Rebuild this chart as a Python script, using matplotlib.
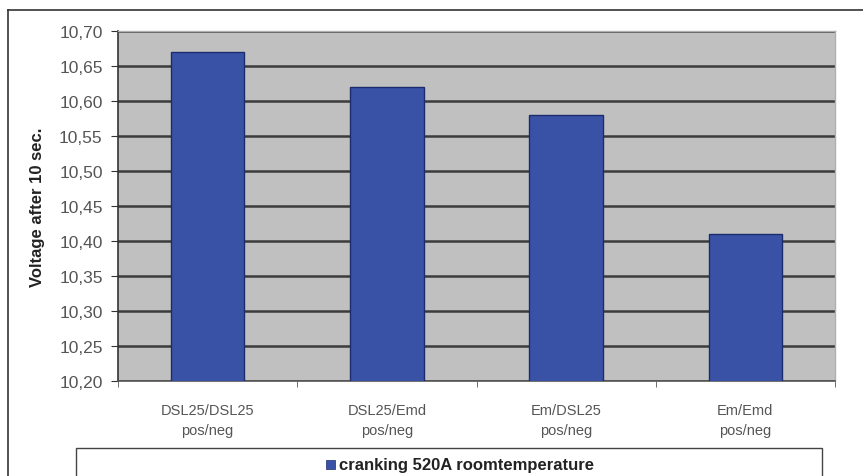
import matplotlib.pyplot as plt
import numpy as np
from matplotlib.lines import Line2D
from matplotlib.patches import Rectangle
from matplotlib.ticker import FixedLocator

plt.rcParams['font.family'] = ['Liberation Sans', 'DejaVu Sans']

categories = ["DSL25/DSL25\npos/neg", "DSL25/Emd\npos/neg", "Em/DSL25\npos/neg", "Em/Emd\npos/neg"]
voltage = [10.67, 10.62, 10.58, 10.41]
series_name = "cranking 520A roomtemperature"
yticks = [10.20, 10.25, 10.30, 10.35, 10.40, 10.45, 10.50, 10.55, 10.60, 10.65, 10.70]

W, H = 863, 477
fig = plt.figure(figsize=(W / 100, H / 100), dpi=100)
ax = fig.add_axes([118 / W, 1 - 382 / H, (835 - 118) / W, (382 - 32) / H])

x = np.arange(len(categories))
ax.set_facecolor("#c0c0c0")
ax.bar(x, voltage, width=0.41, color="#3a52a6", edgecolor="#1c2a6e", linewidth=1, zorder=3)

ax.set_xlim(-0.5, len(categories) - 0.5)
ax.set_ylim(10.20, 10.70)
ax.set_yticks(yticks)
ax.set_yticklabels([f"{v:.2f}".replace(".", ",") for v in yticks], fontsize=12.5, color="#555555")
ax.yaxis.grid(True, color="#3c3c3c", linewidth=1.8, zorder=1)
ax.set_axisbelow(True)

ax.set_xticks(x)
ax.set_xticklabels(categories, fontsize=10.5, color="#555555", linespacing=1.55)
ax.tick_params(axis="x", length=0, pad=16)
ax.xaxis.set_minor_locator(FixedLocator(np.arange(-0.5, len(categories), 1.0)))
ax.tick_params(axis="x", which="minor", length=4, color="#555555", direction="out")
ax.tick_params(axis="y", length=5, color="#333333", direction="out", pad=6)

for side in ["top", "right"]:
    ax.spines[side].set_color("#b0b0b0")
    ax.spines[side].set_linewidth(1)
ax.spines["left"].set_color("#333333")
ax.spines["bottom"].set_color("#555555")
ax.spines["left"].set_linewidth(1.2)
ax.spines["bottom"].set_linewidth(1.2)

ax.set_ylabel("Voltage after 10 sec.", fontsize=12, fontweight="bold", color="#222222", labelpad=10)

# outer chart frame (left and top edges)
fig.add_artist(Line2D([8 / W, 8 / W], [0, 1 - 11 / H], color="#333333", linewidth=1.2))
fig.add_artist(Line2D([8 / W, 1], [1 - 11 / H, 1 - 11 / H], color="#333333", linewidth=1.2))

# legend box along the bottom
fig.add_artist(Rectangle((76 / W, -0.02), (822 - 76) / W, 0.02 + (477 - 449) / H,
                         facecolor="white", edgecolor="#444444", linewidth=1))
fig.add_artist(Rectangle((326 / W, 1 - 470 / H), 9 / W, 9 / H,
                         facecolor="#3a52a6", edgecolor="#1c2a6e", linewidth=0.5))
fig.text(339 / W, 1 - 465.5 / H, series_name, fontsize=12, fontweight="bold",
         color="#222222", va="center", ha="left")

fig.savefig("out.png", dpi=100)
